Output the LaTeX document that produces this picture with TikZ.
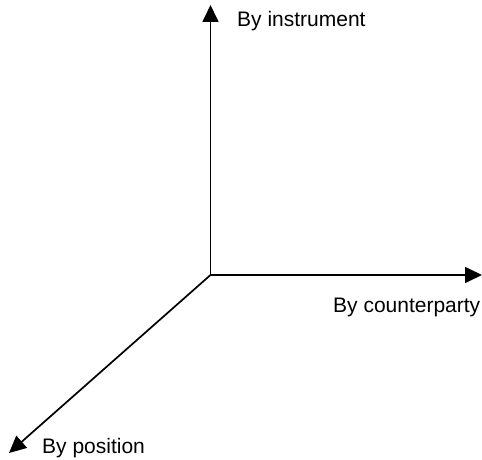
\documentclass[tikz,border=0pt]{standalone}
\usepackage{fontspec}
\setmainfont{Liberation Sans}
\usetikzlibrary{arrows.meta,positioning}

\begin{document}
\begin{tikzpicture}[x=1pt,y=1pt,>={Triangle[length=17pt,width=16pt]},
font=\fontsize{21}{25}\selectfont,
axis/.style={->,line width=1.7pt},
lbl/.style={inner sep=0pt,anchor=base west}]
\useasboundingbox (0,0) rectangle (482,459);
\coordinate (o) at (210.5,184);
\coordinate (inst) at (210.5,454);
\coordinate (cpty) at (482,184);
\coordinate (pos) at (9,6);
\draw[axis] (o)--(inst);
\draw[axis] (o)--(cpty);
\draw[axis] (o)--(pos);
\node[lbl] (instlbl) at (237,432) {By instrument};
\node[lbl] (cptylbl) at (333,147) {By counterparty};
\node[lbl] (poslbl) at (42,6) {By position};
\end{tikzpicture}
\end{document}
